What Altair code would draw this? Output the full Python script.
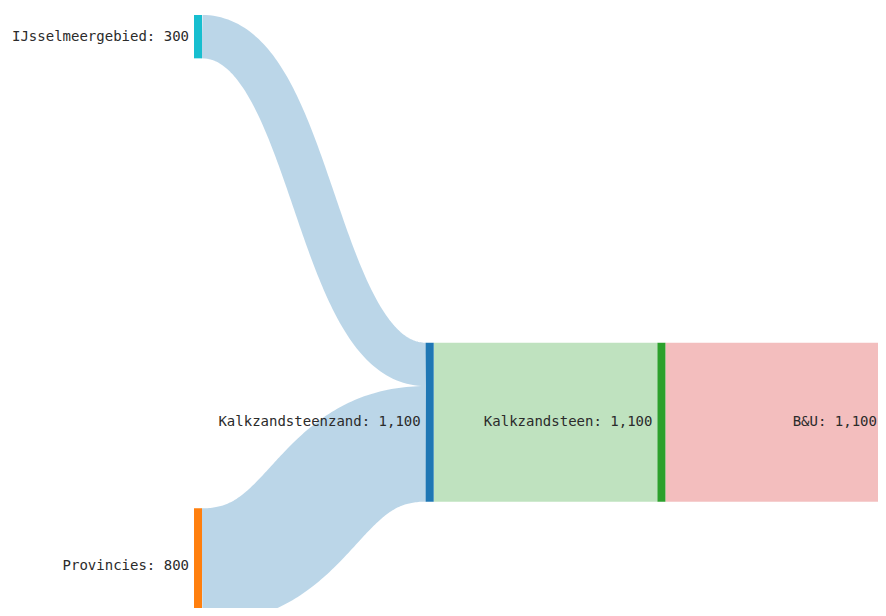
import altair as alt
import numpy as np
import pandas as pd

# ---- data ----
node_names = ["IJsselmeergebied", "Provincies", "Kalkzandsteenzand", "Kalkzandsteen", "B&U"]
node_colors = ["#17becf", "#ff7f0e", "#1f77b4", "#2ca02c", "#d62728"]
link_sources = [0, 1, 2, 3]
link_targets = [2, 2, 3, 4]
link_values = [300, 800, 1100, 1100]

# ---- layout (sankey positions, in flow units / column units) ----
node_column = [0, 0, 1, 2, 3]
node_top = [0, 3414, 2268, 2268, 2268]
NODE_W = 0.0345
X_DOMAIN = [-0.8028, 2.952]
Y_DOMAIN = [-48.4, 4103.8]
W, H = 870, 600
Y_SPAN = Y_DOMAIN[1] - Y_DOMAIN[0]

n = len(node_names)
v_in = [0] * n
v_out = [0] * n
for s, t, v in zip(link_sources, link_targets, link_values):
    v_out[s] += v
    v_in[t] += v
node_value = [max(a, b) for a, b in zip(v_in, v_out)]

nodes = pd.DataFrame({
    "name": node_names,
    "color": node_colors,
    "x0": node_column,
    "x1": [c + NODE_W for c in node_column],
    "y0": node_top,
    "y1": [t + v for t, v in zip(node_top, node_value)],
})
nodes["ym"] = (nodes["y0"] + nodes["y1"]) / 2
nodes["label"] = [f"{nm}: {v:,}" for nm, v in zip(node_names, node_value)]
# keep labels of nodes beyond the visible edge inside the picture
x_lim = X_DOMAIN[1] + 0.017
nodes["lx"] = [min(c, x_lim) for c in node_column]

# links as stroked bezier center lines (width = flow value)
out_off = list(node_top)
in_off = list(node_top)
rows = []
ts = np.linspace(0, 1, 120)
for i, (s, t, v) in enumerate(zip(link_sources, link_targets, link_values)):
    xa = node_column[s] + NODE_W
    xb = node_column[t]
    xm = (xa + xb) / 2
    sc = out_off[s] + v / 2
    tc = in_off[t] + v / 2
    out_off[s] += v
    in_off[t] += v
    for k, tt in enumerate(ts):
        a = (1 - tt) ** 3
        b = 3 * (1 - tt) ** 2 * tt
        c = 3 * (1 - tt) * tt ** 2
        d = tt ** 3
        x = a * xa + (b + c) * xm + d * xb
        y = (a + b) * sc + (c + d) * tc
        rows.append({"link": i, "k": k, "x": x, "y": y, "w": v, "color": node_colors[t]})
links = pd.DataFrame(rows)

xs = alt.Scale(domain=X_DOMAIN, nice=False, zero=False)
ys = alt.Scale(domain=Y_DOMAIN, nice=False, zero=False, reverse=True)

link_layer = alt.Chart(links).mark_line(
    strokeOpacity=0.3, strokeCap="butt", clip=True, interpolate="linear"
).encode(
    x=alt.X("x:Q", scale=xs, axis=None),
    y=alt.Y("y:Q", scale=ys, axis=None),
    detail="link:N",
    order="k:Q",
    size=alt.Size("w:Q", scale=alt.Scale(type="linear", domain=[0, Y_SPAN], range=[0, H], zero=True), legend=None),
    color=alt.Color("color:N", scale=None),
)

node_layer = alt.Chart(nodes).mark_rect(clip=True).encode(
    x=alt.X("x0:Q", scale=xs, axis=None),
    x2="x1:Q",
    y=alt.Y("y0:Q", scale=ys, axis=None),
    y2="y1:Q",
    color=alt.Color("color:N", scale=None),
)

text_layer = alt.Chart(nodes).mark_text(
    align="right", baseline="middle", dx=-5,
    font="DejaVu Sans Mono", fontSize=14, color="#2b2b2b"
).encode(
    x=alt.X("lx:Q", scale=xs, axis=None),
    y=alt.Y("ym:Q", scale=ys, axis=None),
    text="label:N",
)

chart = alt.layer(link_layer, node_layer, text_layer).properties(
    width=W, height=H, padding=0, autosize=alt.AutoSizeParams(type="none"),
    background="white",
).configure_view(stroke=None)

chart.save("out.html", embed_options={"renderer": "svg", "actions": False})
